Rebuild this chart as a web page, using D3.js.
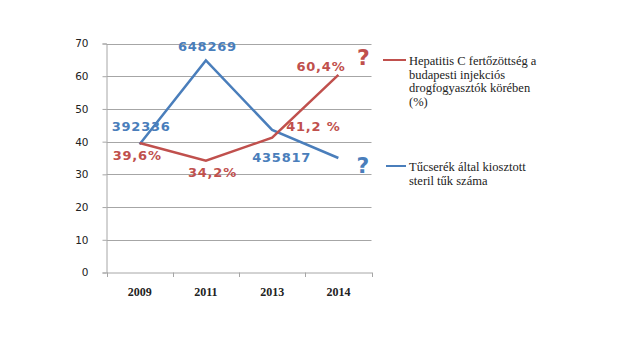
<!DOCTYPE html>
<html><head><meta charset="utf-8">
<script src="https://cdn.jsdelivr.net/npm/d3@7"></script>
<style>body{margin:0;background:#fff}svg{display:block}</style>
</head><body><svg width="640" height="360"></svg>
<script>
const categories = ["2009","2011","2013","2014"];
const hepC = [39.6, 34.2, 41.2, 60.4];
const hepCLabels = ["39,6%","34,2%","41,2 %","60,4%"];
const needles = [39.2, 64.8, 43.6, 35.0];
const needleLabels = ["392336","648269","435817","?"];
const yTicks = [0,10,20,30,40,50,60,70];
const legendRed = ["Hepatitis C fertőzöttség a","budapesti injekciós","drogfogyasztók körében","(%)"];
const legendBlue = ["Tűcserék által kiosztott","steril tűk száma"];

const RED = "#c0504d", BLUE = "#4a7ebb", GRID = "#a6a6a6";
const svg = d3.select("svg");
const x = d3.scaleBand().domain(categories).range([106.5, 371.5]);
const y = d3.scaleLinear().domain([0,70]).range([272.5, 43.5]);
const cx = d => x(d) + x.bandwidth()/2;

// gridlines
svg.append("g").selectAll("line").data(yTicks.filter(d=>d>0)).join("line")
  .attr("x1", 106.5).attr("x2", 371.5).attr("y1", d=>Math.round(y(d))+0.5).attr("y2", d=>Math.round(y(d))+0.5)
  .attr("stroke", GRID).attr("stroke-width", 1);

// y axis
const ya = svg.append("g").attr("transform","translate(106.5,0)")
  .call(d3.axisLeft(y).tickValues(yTicks).tickSize(4).tickPadding(14).tickFormat(d3.format("d")));
ya.select(".domain").attr("stroke", GRID);
ya.selectAll(".tick line").attr("stroke", GRID);
ya.selectAll(".tick text").attr("font-family","DejaVu Sans, Verdana, sans-serif").attr("font-size",10.5).attr("fill","#222");

// x axis
const xa = svg.append("g").attr("transform","translate(0,272.5)")
  .call(d3.axisBottom(x).tickSize(0).tickPadding(15));
xa.select(".domain").attr("stroke", GRID);
xa.selectAll(".tick text").attr("font-family","Liberation Serif, serif").attr("font-weight","bold").attr("font-size",12).attr("fill","#222");
// x tick marks at band boundaries
svg.append("g").selectAll("line").data(categories.map(c=>x(c)).concat([371.5])).join("line")
  .attr("x1", d=>Math.round(d)+0.5).attr("x2", d=>Math.round(d)+0.5).attr("y1",272.5).attr("y2",277)
  .attr("stroke", GRID);

const line = d3.line().x((d,i)=>cx(categories[i])).y(d=>y(d));
svg.append("path").datum(needles).attr("d", line).attr("fill","none").attr("stroke", BLUE).attr("stroke-width",2.5);
svg.append("path").datum(hepC).attr("d", line).attr("fill","none").attr("stroke", RED).attr("stroke-width",2.5);

// data labels
const lab = (txt, xx, yy, col, size) => svg.append("text").text(txt).attr("x",xx).attr("y",yy)
  .attr("fill",col).attr("font-family","DejaVu Sans, Verdana, sans-serif").attr("font-weight","bold")
  .attr("font-size",size||13).attr("letter-spacing",0.8);
const blueOff = [[-28,-13],[-28,-9.5],[-20,32],[18,15]];
const redOff = [[-27,17],[-18,16],[14,-6.5],[-42,-4]];
needles.forEach((v,i)=>{
  const o = blueOff[i];
  lab(needleLabels[i], cx(categories[i])+o[0], y(v)+o[1], BLUE, i===3?22:13);
});
hepC.forEach((v,i)=>{
  const o = redOff[i];
  lab(hepCLabels[i], cx(categories[i])+o[0], y(v)+o[1], RED);
});
lab("?", 357, 65, RED, 22);

// legend
const leg = (lines, ly, col, lx1) => {
  svg.append("line").attr("x1",lx1).attr("x2",406).attr("y1",ly).attr("y2",ly).attr("stroke",col).attr("stroke-width",2);
  lines.forEach((t,i)=>svg.append("text").text(t).attr("x",409).attr("y",ly+5+i*13.5)
    .attr("font-family","Liberation Serif, serif").attr("font-size",12.5).attr("fill","#222"));
};
leg(legendRed, 60, RED, 383);
leg(legendBlue, 166, BLUE, 386);
</script></body></html>
